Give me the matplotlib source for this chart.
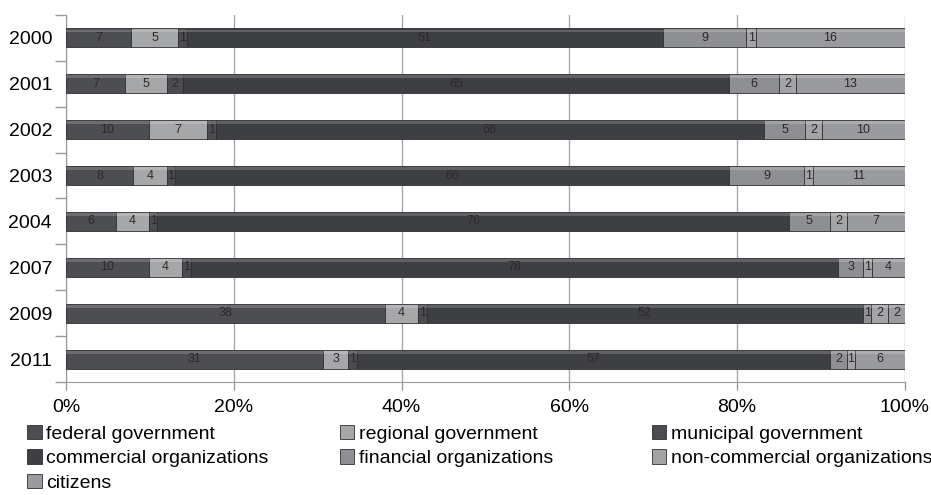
import numpy as np
import matplotlib.pyplot as plt
from matplotlib.patches import Patch

plt.rcParams['font.family'] = ['Liberation Sans', 'DejaVu Sans']

years = ['2000', '2001', '2002', '2003', '2004', '2007', '2009', '2011']
series = ['federal government', 'regional government', 'municipal government',
          'commercial organizations', 'financial organizations',
          'non-commercial organizations', 'citizens']
federal = [7, 7, 10, 8, 6, 10, 38, 31]
regional = [5, 5, 7, 4, 4, 4, 4, 3]
municipal = [1, 2, 1, 1, 1, 1, 1, 1]
commercial = [51, 65, 66, 66, 76, 78, 52, 57]
financial = [9, 6, 5, 9, 5, 3, 1, 2]
noncommercial = [1, 2, 2, 1, 2, 1, 2, 1]
citizens = [16, 13, 10, 11, 7, 4, 2, 6]
colors = ['#4d4e52', '#a6a7a9', '#4b4c50', '#3e3f43', '#8e8f92', '#a3a4a6', '#9a9b9e']

vals = np.array([federal, regional, municipal, commercial, financial, noncommercial, citizens], dtype=float)
pct = vals / vals.sum(axis=0) * 100

fig = plt.figure(figsize=(9.31, 4.95), dpi=100)
ax = fig.add_axes([0.0709, 0.228, 0.9011, 0.742])

y = np.arange(len(years))
left = np.zeros(len(years))
for i in range(len(series)):
    ax.barh(y, pct[i], left=left, height=0.42, color=colors[i],
            edgecolor='#2e2f33', linewidth=0.6, label=series[i], zorder=3)
    # light bevel along the top of each segment
    ax.barh(y - 0.15, pct[i], left=left, height=0.06, color='white', alpha=0.18,
            linewidth=0, zorder=4)
    for j in range(len(years)):
        ax.text(left[j] + pct[i][j] / 2, y[j], '%d' % vals[i][j], ha='center', va='center',
                fontsize=9, color='#2a2a2a', zorder=5)
    left += pct[i]

ax.set_xlim(0, 100)
ax.set_ylim(len(years) - 0.5, -0.5)
ax.set_xticks([0, 20, 40, 60, 80, 100])
ax.set_xticklabels(['0%', '20%', '40%', '60%', '80%', '100%'], fontsize=14)
ax.set_yticks(y)
ax.set_yticklabels(years, fontsize=14)
ax.set_yticks(np.arange(-0.5, len(years), 1), minor=True)
ax.tick_params(axis='y', which='major', length=0, pad=10)
ax.tick_params(axis='y', which='minor', length=8, color='#9a9a9a', width=1)
ax.tick_params(axis='x', length=6, color='#9a9a9a', width=1, pad=6)
ax.grid(axis='x', color='#a8a8a8', linewidth=1, zorder=0)
for s in ['top', 'right']:
    ax.spines[s].set_visible(False)
for s in ['left', 'bottom']:
    ax.spines[s].set_color('#9a9a9a')

# legend laid out row by row in three fixed columns
columns = [[0, 3, 6], [1, 4], [2, 5]]
col_x = [0.029, 0.365, 0.700]
for xs, idx in zip(col_x, columns):
    handles = [Patch(facecolor=colors[k], edgecolor='#2e2f33', linewidth=0.6) for k in idx]
    labels = [series[k] for k in idx]
    fig.legend(handles, labels, loc='upper left', bbox_to_anchor=(xs, 0.142),
               frameon=False, fontsize=14, handlelength=0.75, handleheight=0.75,
               handletextpad=0.25, labelspacing=0.35, borderaxespad=0, borderpad=0)

fig.savefig('out.png', dpi=100)
